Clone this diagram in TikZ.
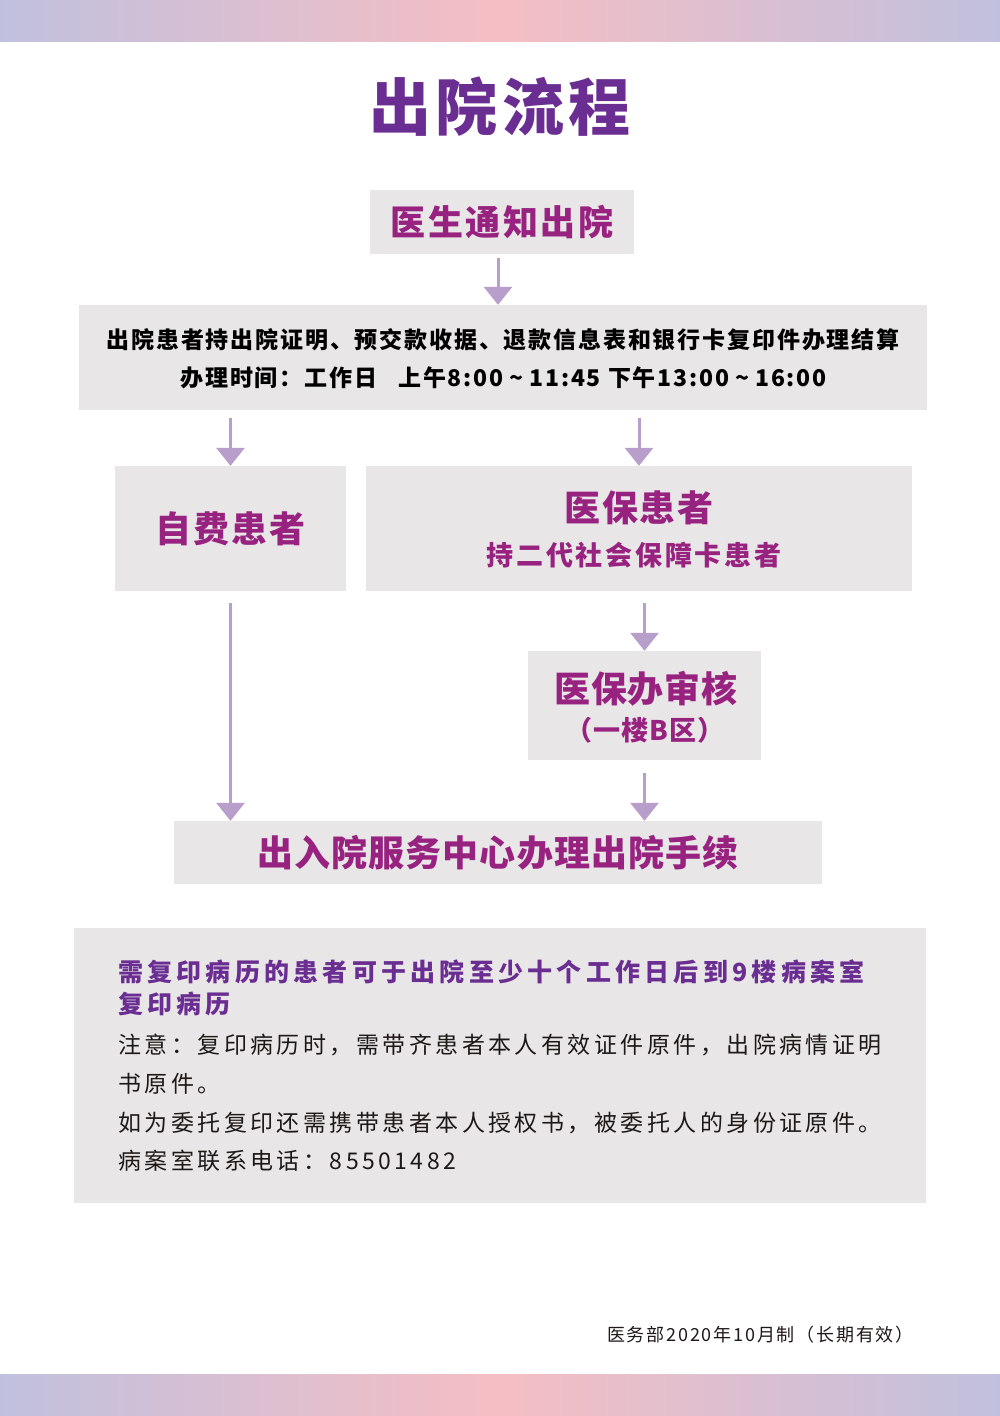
\documentclass[tikz,border=0pt]{standalone}
\usepackage{fontspec}
\setmainfont{Noto Sans CJK SC}
\usetikzlibrary{arrows.meta,calc}
\definecolor{boxgray}{RGB}{232,230,230}
\definecolor{mag}{RGB}{152,34,128}
\definecolor{titlepurple}{RGB}{106,45,145}
\definecolor{arrowc}{RGB}{184,158,202}
\definecolor{barlav}{RGB}{192,192,222}
\definecolor{barpink}{RGB}{245,190,196}
\definecolor{textdark}{RGB}{30,24,22}
\newcommand{\fs}[2]{\fontsize{#1pt}{#1pt}\selectfont\addfontfeatures{LetterSpace=#2}}
\newcommand{\tl}{\hspace{6pt}\textasciitilde\hspace{6pt}}
\begin{document}
\begin{tikzpicture}[x=1pt,y=-1pt,
  box/.style={fill=boxgray,inner sep=0pt},
  txt/.style={inner sep=0pt},
  arr/.style={draw=arrowc,line width=3pt,-{Triangle[width=28pt,length=18pt]}}]
\useasboundingbox (0,0) rectangle (1000,1416);
\fill[white] (0,0) rectangle (1000,1416);
\shade[left color=barlav,right color=barlav,middle color=barpink] (0,0) rectangle (1000,41);
\shade[left color=barlav,right color=barlav,middle color=barpink] (0,1374) rectangle (1000,1416);
% title
\node[txt,text=titlepurple] (title) at (500,107) {\bfseries\fs{62}{7}出院流程};
% boxes
\node[box,minimum width=264pt,minimum height=64pt,text=mag] (b1) at (502,222) {\bfseries\fs{35}{7}医生通知出院};
\node[box,minimum width=848pt,minimum height=105pt] (b2) at (503,357.5) {};
\node[txt] (b2a) at (503,340) {\bfseries\fs{23}{8}出院患者持出院证明、预交款收据、退款信息表和银行卡复印件办理结算};
\node[txt] (b2b) at (503.5,378) {\bfseries\fs{23}{8}办理时间：工作日\hspace{21pt}上午8:00\tl 11:45 下午13:00\tl 16:00};
\node[box,minimum width=231pt,minimum height=125pt,text=mag] (zf) at (230.5,528.5) {\bfseries\fs{36}{5}自费患者};
\node[box,minimum width=546pt,minimum height=125pt] (yb) at (639,528.5) {};
\node[txt,text=mag] (yba) at (639,508) {\bfseries\fs{36}{5}医保患者};
\node[txt,text=mag] (ybb2) at (634,555) {\bfseries\fs{27}{10}持二代社会保障卡患者};
\node[box,minimum width=233pt,minimum height=109pt] (ybb) at (644.5,705.5) {};
\node[txt,text=mag] (ybba) at (646,689) {\bfseries\fs{36}{2}医保办审核};
\node[txt,text=mag] (ybbb) at (645,730) {\bfseries\fs{27}{4}（一楼B区）};
\node[box,minimum width=648pt,minimum height=63pt,text=mag] (fin) at (498,852.5) {\bfseries\fs{36}{3}出入院服务中心办理出院手续};
% arrows
\coordinate (a1) at (498,254);
\draw[arr,shorten <=4pt] (a1) -- (a1 |- b2.north);
\draw[arr,shorten <=8pt] (b2.south -| zf.north) -- (zf.north);
\draw[arr,shorten <=8pt] (b2.south -| yb.north) -- (yb.north);
\draw[arr,shorten <=12pt] (yb.south -| ybb.north) -- (ybb.north);
\draw[arr,shorten <=12pt] (zf.south) -- (zf.south |- fin.north);
\draw[arr,shorten <=13pt] (ybb.south) -- (ybb.south |- fin.north);
% info box
\node[box,minimum width=852pt,minimum height=275pt] (info) at (500,1065.5) {};
\node[txt,anchor=west,text=titlepurple] (i1) at (118,972) {\bfseries\fs{25}{17}需复印病历的患者可于出院至少十个工作日后到9楼病案室};
\node[txt,anchor=west,text=titlepurple] (i2) at (118,1004) {\bfseries\fs{25}{17}复印病历};
\node[txt,anchor=west,text=textdark] (i3) at (118,1045) {\fs{23}{15}注意：复印病历时，需带齐患者本人有效证件原件，出院病情证明};
\node[txt,anchor=west,text=textdark] (i4) at (118,1084) {\fs{23}{15}书原件。};
\node[txt,anchor=west,text=textdark] (i5) at (118,1123) {\fs{23}{15}如为委托复印还需携带患者本人授权书，被委托人的身份证原件。};
\node[txt,anchor=west,text=textdark] (i6) at (118,1161) {\fs{23}{15}病案室联系电话：85501482};
% footer
\node[txt,anchor=west,text=textdark] (foot) at (607,1335) {\fs{18}{10}医务部2020年10月制（长期有效）};
\end{tikzpicture}
\end{document}
